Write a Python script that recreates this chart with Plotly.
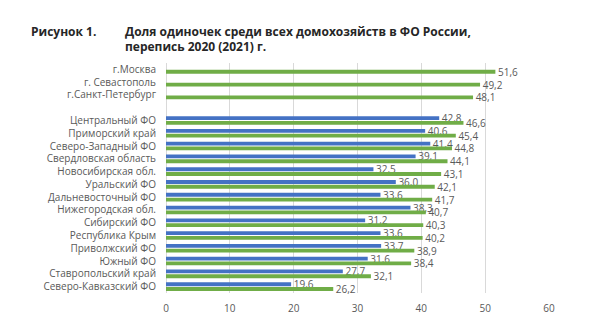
import plotly.graph_objects as go

categories = ["г.Москва", "г. Севастополь", "г.Санкт-Петербург", " ",
              "Центральный ФО", "Приморский край", "Северо-Западный ФО",
              "Свердловская область", "Новосибирская обл.", "Уральский ФО",
              "Дальневосточный ФО", "Нижегородская обл.", "Сибирский ФО",
              "Республика Крым", "Приволжский ФО", "Южный ФО",
              "Ставропольский край", "Северо-Кавказский ФО"]
blue_vals = [None, None, None, None, 42.8, 40.6, 41.4, 39.1, 32.5, 36.0,
             33.6, 38.3, 31.2, 33.6, 33.7, 31.6, 27.7, 19.6]
green_vals = [51.6, 49.2, 48.1, None, 46.6, 45.4, 44.8, 44.1, 43.1, 42.1,
              41.7, 40.7, 40.3, 40.2, 38.9, 38.4, 32.1, 26.2]
x_ticks = [0, 10, 20, 30, 40, 50, 60]
title_fig = "Рисунок 1."
title_line1 = "Доля одиночек среди всех домохозяйств в ФО России,"
title_line2 = "перепись 2020 (2021) г."


def fmt(v):
    return "" if v is None else " " + f"{v:.1f}".replace(".", ",")


FONT = "Open Sans"
GRAY = "#595959"

fig = go.Figure()
for vals, color in ((blue_vals, "#4472C4"), (green_vals, "#70AD47")):
    fig.add_trace(go.Bar(
        y=categories, x=vals, orientation="h",
        marker=dict(color=color, line=dict(width=0)),
        text=[fmt(v) for v in vals], textposition="outside",
        constraintext="none",
        textfont=dict(family=FONT, size=10, color=GRAY),
        cliponaxis=False, hoverinfo="skip",
    ))

L, R, T, B = 166, 51, 63, 34
W, H = 600, 327
pw, ph = W - L - R, H - T - B


def px_x(p):
    return (p - L) / pw


def px_y(p):
    return (H - B - p) / ph


fig.update_layout(
    width=W, height=H, margin=dict(l=L, r=R, t=T, b=B),
    paper_bgcolor="white", plot_bgcolor="white",
    barmode="group", bargap=0.25, bargroupgap=0.2,
    showlegend=False,
    font=dict(family=FONT, size=10, color=GRAY),
    xaxis=dict(range=[0, 60], tickvals=x_ticks, showgrid=True,
               gridcolor="#d9d9d9", gridwidth=1, zeroline=True,
               zerolinecolor="#d9d9d9", zerolinewidth=1,
               ticks="outside", ticklen=6, tickcolor="rgba(0,0,0,0)",
               tickfont=dict(family=FONT, size=10, color=GRAY),
               fixedrange=True),
    yaxis=dict(categoryorder="array", categoryarray=categories,
               autorange="reversed", showgrid=False, zeroline=False,
               ticks="outside", ticklen=7, tickcolor="rgba(0,0,0,0)",
               tickfont=dict(family=FONT, size=10, color=GRAY),
               fixedrange=True),
)

ann_font = dict(family=FONT, size=12, color="#262626")
for text, xp, yp in ((title_fig, 29, 31.5), (title_line1, 123, 31.5),
                     (title_line2, 123, 46)):
    fig.add_annotation(text="<b>" + text + "</b>", xref="paper", yref="paper",
                       x=px_x(xp), y=px_y(yp), xanchor="left", yanchor="middle",
                       showarrow=False, font=ann_font)

fig.write_html("out.html")
